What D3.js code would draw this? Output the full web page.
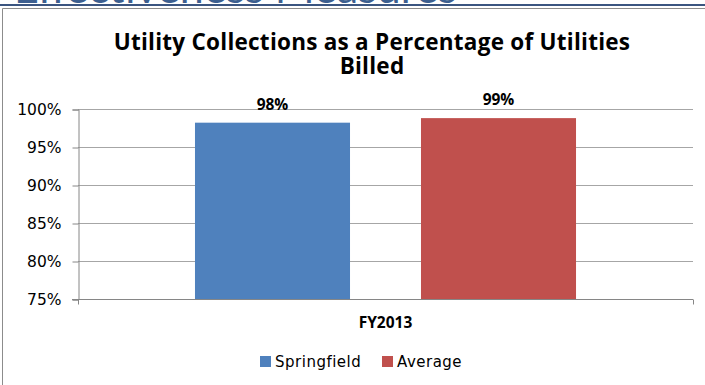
<!DOCTYPE html>
<html><head><meta charset="utf-8">
<script src="https://cdn.jsdelivr.net/npm/d3@7/dist/d3.min.js"></script>
<style>
html,body{margin:0;padding:0;background:#fff;}
svg{display:block;}
</style></head>
<body>
<svg id="c" width="705" height="385"></svg>
<script>
const pageHeading = "Effectiveness Measures";
const titleLines = ["Utility Collections as a Percentage of Utilities", "Billed"];
const categories = ["FY2013"];
const seriesNames = ["Springfield", "Average"];
const seriesColors = ["#4f81bd", "#c0504d"];
const springfieldValues = [98.2];
const averageValues = [98.8];
const dataLabels = [["98%"], ["99%"]];
const yTicks = [75, 80, 85, 90, 95, 100];

(function () {
const svg = d3.select("#c");
const font = "Lato, 'Open Sans', sans-serif";
const boldFont = "'Open Sans', Lato, sans-serif";

// page heading (cut off at top, as in the reference)
svg.append("text").attr("x", 14).attr("y", 3)
  .attr("font-family", font).attr("font-size", 43)
  .attr("fill", "#3d5f8f").text(pageHeading);
svg.append("line").attr("x1", 0).attr("x2", 705).attr("y1", 5).attr("y2", 5)
  .attr("stroke", "#3b5580").attr("stroke-width", 2);

// chart border (top + left)
svg.append("path").attr("d", "M2.5,385 V8.5 H705")
  .attr("fill", "none").attr("stroke", "#8c8c8c").attr("stroke-width", 1);

// title
titleLines.forEach((l, i) => svg.append("text").attr("text-anchor", "middle")
  .attr("font-family", boldFont).attr("font-weight", "bold").attr("font-size", 22.5)
  .attr("letter-spacing", 0.25).attr("fill", "#000")
  .attr("x", 372).attr("y", 50 + i * 24).text(l));

const pl = 78, pr = 693, pt = 109, pb = 299;
const y = d3.scaleLinear().domain([75, 100]).range([pb, pt]);
const x0 = d3.scaleBand().domain(categories).range([pl, pr]).paddingInner(0).paddingOuter(0.307);
const x1 = d3.scaleBand().domain(seriesNames).range([0, x0.bandwidth()]).paddingInner(0.314).paddingOuter(0);

// gridlines
svg.append("g").selectAll("line").data(yTicks.filter(v => v > 75)).join("line")
  .attr("x1", pl).attr("x2", pr)
  .attr("y1", d => Math.round(y(d)) + 0.5).attr("y2", d => Math.round(y(d)) + 0.5)
  .attr("stroke", "#a6a6a6").attr("stroke-width", 1);

// y axis
const yAxis = d3.axisLeft(y).tickValues(yTicks).tickFormat(d => d + "%").tickSize(6).tickPadding(11);
const gy = svg.append("g").attr("transform", `translate(${pl + 0.5},0.5)`).call(yAxis);
gy.select(".domain").attr("stroke", "#868686");
gy.selectAll(".tick line").attr("stroke", "#868686");
gy.selectAll(".tick text").attr("font-family", "'DejaVu Sans', sans-serif").attr("font-size", 15.5).attr("fill", "#000");

// bars
const series = [springfieldValues, averageValues];
const g = svg.append("g");
series.forEach((vals, si) => {
  categories.forEach((c, ci) => {
    const bx = x0(c) + x1(seriesNames[si]);
    g.append("rect").attr("x", bx).attr("y", y(vals[ci]))
      .attr("width", x1.bandwidth()).attr("height", y(75) - y(vals[ci]))
      .attr("fill", seriesColors[si]);
    g.append("text").attr("x", bx + x1.bandwidth() / 2).attr("y", y(vals[ci]) - 13)
      .attr("text-anchor", "middle").attr("font-family", boldFont).attr("font-weight", "bold")
      .attr("font-size", 15.5).attr("fill", "#000").text(dataLabels[si][ci]);
  });
});

// x axis
const xAxis = d3.axisBottom(x0).tickSize(0).tickPadding(17);
const gx = svg.append("g").attr("transform", `translate(0,${pb + 0.5})`).call(xAxis);
gx.select(".domain").attr("stroke", "#868686").attr("d", `M${pl - 6},0H${pr}`);
gx.selectAll(".tick text").attr("font-family", boldFont).attr("font-weight", "bold").attr("font-size", 15.5).attr("fill", "#000");
[pl + 0.5, pr + 0.5].forEach(px => gx.append("line").attr("x1", px).attr("x2", px).attr("y1", 0).attr("y2", 5).attr("stroke", "#868686"));

// legend
const lx = [260, 382];
const lg = svg.append("g");
seriesNames.forEach((n, i) => {
  lg.append("rect").attr("x", lx[i]).attr("y", 356).attr("width", 11).attr("height", 11).attr("fill", seriesColors[i]);
  lg.append("text").attr("x", lx[i] + 15).attr("y", 367).attr("font-family", "'DejaVu Sans', sans-serif")
    .attr("font-size", 15).attr("letter-spacing", 0.5).attr("fill", "#000").text(n);
});
})();
</script>
</body></html>
